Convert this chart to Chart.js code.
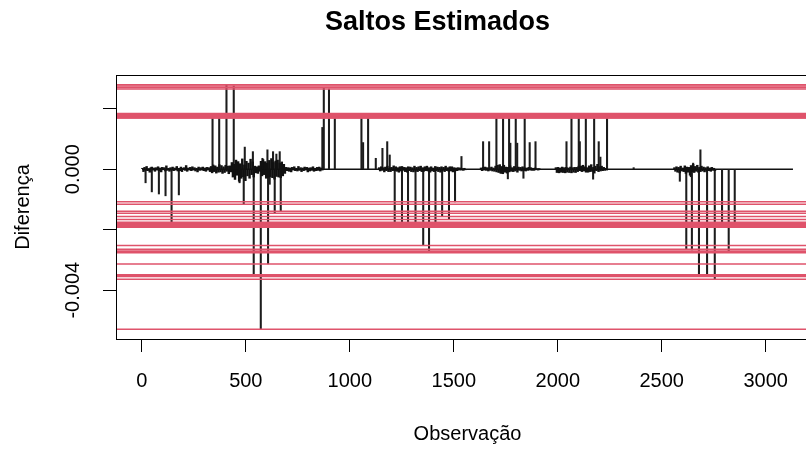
<!DOCTYPE html>
<html>
<head>
<meta charset="utf-8">
<title>Saltos Estimados</title>
<script src="https://cdn.jsdelivr.net/npm/chart.js@4.4.1/dist/chart.umd.min.js"></script>
<style>
  html, body { margin: 0; padding: 0; background: #fff; width: 806px; height: 449px; overflow: hidden; }
  canvas { display: block; }
</style>
</head>
<body>
<canvas id="saltos" width="875" height="449"></canvas>
<script>
// Axis ticks
const xTickValues = [0, 500, 1000, 1500, 2000, 2500, 3000];
const xTickLabels = ['0', '500', '1000', '1500', '2000', '2500', '3000'];
const yTickValues = [0.002, 0, -0.002, -0.004];
const yTickLabels = ['', '0.000', '', '-0.004'];

// Observation range of the differenced series
const firstObs = 1;
const lastObs = 3131;

// Estimated jumps: observation and size (each also drawn as a horizontal reference line)
const jumpObs = [143, 340, 372, 407, 442, 490, 538, 572, 607, 639, 668, 875, 900, 928, 1056, 1088,
  1216, 1251, 1280, 1316, 1353, 1381, 1412, 1444, 1477, 1506, 1705, 1737, 1766, 1798, 1841,
  2066, 2101, 2135, 2175, 2237, 2618, 2645, 2679, 2718, 2755, 2790, 2822, 2851];
const jumpValues = [-0.00175, 0.00170, 0.00183, 0.00279, 0.00275, -0.00116, -0.00349, -0.00529, -0.00313,
  -0.00146, -0.00139, 0.00270, 0.00265, 0.00176, 0.00179, 0.00172,
  -0.00177, -0.00180, -0.00182, -0.00185, -0.00252, -0.00273, -0.00187, -0.00156, -0.00166, -0.00108,
  0.00182, 0.00177, 0.00169, 0.00180, 0.00174,
  0.00184, 0.00171, 0.00178, 0.00175, 0.00181, -0.00265, -0.00267, -0.00352, -0.00355, -0.00364,
  -0.00190, -0.00276, -0.00192];

// Other large differences that were not flagged as jumps
const otherObs = [18, 48, 82, 114, 178, 470, 495, 534, 580, 604, 615, 631, 647, 663, 868,
  1064, 1125, 1157, 1180, 1192, 1537, 1641, 1670, 1760, 1772, 1805, 1835, 1865, 1893, 2042,
  2106, 2170, 2197, 2205, 2365, 2587, 2640, 2651, 2686];
const otherValues = [-0.00045, -0.00075, -0.00082, -0.00088, -0.00085, -0.00045, 0.00073, 0.00058, 0.00036,
  0.00064, -0.00050, 0.00058, 0.00050, 0.00058, 0.00138, 0.00088, 0.00036, 0.00069, 0.00091, 0.00047,
  0.00042, 0.00091, 0.00091, -0.00032, 0.00086, 0.00086, -0.00030, 0.00088, 0.00091, 0.00091,
  0.00091, -0.00033, 0.00091, 0.00040, 0.00005, -0.00040, -0.00025, 0.00020, 0.00064];

// Small fluctuations around zero, sampled every NOISE_STEP observations, in units of 1e-5
const NOISE_STEP = 5;
const NOISE_UNIT = 1e-5;
const noise1Start = 3;
const noise1 = [3, -8, 6, -4, 9, -5, 2, -10, 5, 7, -3, 4, -7, 5, -3, 8, -5, 4, -9, 6,
  -2, 5, -6, 11, -4, 3, -7, 5, -3, 7, -5, 4, -3, 9, -6, 3, -5, 7, -8, 3,
  5, -4, 12, -7, 4, -3, 6, -5, 8, -3, 5, -6, 3, -9, 7, -4, 5, -3, 7, -5,
  4, -7, 6, -3, 5, -8,
  9, -12, 14, -8, 11, -13, 7, -10, 15, -9, 12, -14, 8, -11, 13, -7, 10, -15, 11, -9,
  22, -26, 16, -34, 30, -20, 25, -40, 18, -30, 34, -25, 14, -38, 26, -22, 20, -30, 33, -18, 24, -26,
  10, -12, 8, -14, 11, -7,
  26, -22, 32, -18, 25, -30, 20, -27, 29, -25, 35, -28, 22, -33, 27, -24, 30, -26, 20, -28, 24, -22, 16, -14,
  6, -5];
const noise2Start = 703;
const noise2 = [5, -7, 4, -9, 6, -3, 8, -5, 3, -6, 9, -4, 5, -8, 4, -5, 7, -3, 6, -9,
  4, -6, 5, -4, 8, -7, 3, -5, 6, -4, 7, -6, 4, -3];
const noise3Start = 1141;
const noise3 = [5, -6, 8, -4, 5, -9, 7, -5, 10, -8, 4, -8, 6, -5, 11, -5, 8, -7, 5, -10,
  8, -6, 9, -4, 6, -8, 5, -10, 8, -5, 7, -8, 5, -9, 10, -6, 6, -8, 8, -5,
  10, -8, 5, -7, 8, -5, 10, -6, 5, -10, 8, -6, 4, -8, 9, -5, 7, -8, 6, -10,
  8, -5, 6, -8, 10, -5, 5, -7, 8, -6, 8, -9, 5, -6, 4, -5, 5, -3, 4, -3,
  2, -4, 3, -2];
const noise4Start = 1631;
const noise4 = [4, -5, 6, -3, 7, -4, 5, -6, 4, -4, 7, -6, 4, -7, 10, -9, 13, -11, 15, -14,
  9, -15, 13, -10, 7, -13, 6, -9, 11, -7, 5, -8, 9, -6, 4, -10, 7, -4, 6, -6,
  8, -5, 4, -6, 4, -4, 6, -3, 5, -4, 3, -4, 4, -2, 2, -3, 2, -1];
const noise5Start = 1991;
const noise5 = [5, -11, 6, -12, 4, -10, 7, -11, 5, -12, 6, -10, 4, -11, 7, -12, 5, -10, 6, -11,
  6, -8, 10, -5, 10, -8, 13, -6, 8, -10, 5, -10, 11, -8, 15, -7, 6, -13, 10, -5,
  16, -8, 8, -6, 10, -5, 6, -4, 3, -3];
const noise6Start = 2561;
const noise6 = [5, -7, 8, -10, 6, -12, 10, -6, 4, -8, 11, -14, 7, -10, 6, -20, 12, -8, 16, -11,
  9, -7, 13, -10, 6, -8, 10, -6, 7, -9, 5, -6, 8, -5, 4, -7, 6, -4, 3, -5];

// ---- build point lists ----
const pairs = (xs, ys) => xs.map((x, i) => ({ x: x, y: ys[i] }));
const noisePoints = [];
[[noise1Start, noise1], [noise2Start, noise2], [noise3Start, noise3],
 [noise4Start, noise4], [noise5Start, noise5], [noise6Start, noise6]].forEach(([start, vals]) => {
  vals.forEach((v, i) => noisePoints.push({ x: start + i * NOISE_STEP, y: v * NOISE_UNIT }));
});

// R-style axis limits: data range widened by 4% on each side
const allValues = jumpValues.concat(otherValues);
const dataMin = Math.min(...allValues), dataMax = Math.max(...allValues);
const yMin = dataMin - 0.04 * (dataMax - dataMin);
const yMax = dataMax + 0.04 * (dataMax - dataMin);
const xMin = firstObs - 0.04 * (lastObs - firstObs);
const xMax = lastObs + 0.04 * (lastObs - firstObs);

const FONT = "'Liberation Sans', Arial, Helvetica, sans-serif";
const RED = '#DF536B';

const spikeStyle = {
  type: 'bar', backgroundColor: '#1c1c1c', borderWidth: 0,
  barThickness: 1.4, grouped: false, order: 2
};

const datasets = [
  { type: 'line', label: 'zero', data: [{ x: firstObs, y: 0 }, { x: lastObs, y: 0 }],
    borderColor: '#111', borderWidth: 1.4, pointRadius: 0, order: 3 },
  Object.assign({}, spikeStyle, { label: 'ruido', data: noisePoints, barThickness: 1.8, backgroundColor: '#111' }),
  Object.assign({}, spikeStyle, { label: 'outros', data: pairs(otherObs, otherValues) }),
  Object.assign({}, spikeStyle, { label: 'saltos', data: pairs(jumpObs, jumpValues) })
];
// a horizontal reference line at every estimated jump size
jumpValues.forEach((v, i) => {
  datasets.push({
    type: 'line', label: 'nivel ' + (i + 1),
    data: [{ x: xMin, y: v }, { x: xMax, y: v }],
    borderColor: RED, borderWidth: 1.5, pointRadius: 0, order: 0
  });
});

// full box around the plotting region
const plotBox = {
  id: 'plotBox',
  afterDraw(chart) {
    const { ctx, chartArea: a } = chart;
    ctx.save();
    ctx.strokeStyle = '#000';
    ctx.lineWidth = 1;
    ctx.strokeRect(Math.round(a.left) + 0.5, Math.round(a.top) + 0.5,
      Math.round(a.right - a.left), Math.round(a.bottom - a.top));
    ctx.restore();
  }
};

const axisFont = { family: FONT, size: 20 };

new Chart(document.getElementById('saltos'), {
  type: 'bar',
  data: { datasets },
  options: {
    responsive: false,
    animation: false,
    devicePixelRatio: 1,
    layout: { padding: 0 },
    plugins: {
      legend: { display: false },
      tooltip: { enabled: false },
      title: {
        display: true, text: 'Saltos Estimados', color: '#000',
        font: { family: FONT, size: 27, weight: 'bold', lineHeight: 1.2 },
        padding: { top: 6, bottom: 36.6 }
      }
    },
    scales: {
      x: {
        type: 'linear', min: xMin, max: xMax, offset: false,
        afterBuildTicks: s => { s.ticks = xTickValues.map(v => ({ value: v })); },
        afterFit: s => { s.height = 110; },
        ticks: {
          autoSkip: false, maxRotation: 0, color: '#000', font: axisFont, padding: 17,
          callback: v => xTickLabels[xTickValues.indexOf(v)]
        },
        grid: { offset: false, drawOnChartArea: false, drawTicks: true, tickLength: 13, color: '#000', lineWidth: 1 },
        border: { display: true, color: '#000', width: 1 },
        title: { display: true, text: 'Observação', color: '#000', font: axisFont, padding: { top: 0, bottom: 2.5 } }
      },
      y: {
        type: 'linear', position: 'left', min: yMin, max: yMax,
        afterBuildTicks: s => { s.ticks = yTickValues.map(v => ({ value: v })); },
        afterFit: s => { s.width = 116; },
        ticks: {
          autoSkip: false, minRotation: 90, maxRotation: 90, crossAlign: 'center',
          color: '#000', font: axisFont, padding: 1,
          callback: v => yTickLabels[yTickValues.indexOf(v)]
        },
        grid: { drawOnChartArea: false, drawTicks: true, tickLength: 13, color: '#000', lineWidth: 1 },
        border: { display: true, color: '#000', width: 1 },
        title: { display: true, text: 'Diferença', color: '#000', font: axisFont, padding: { top: 11, bottom: 0 } }
      },
      // empty right margin of the figure
      margemDireita: {
        type: 'linear', position: 'right', display: true,
        afterFit: s => { s.width = 875 - 819; },
        ticks: { display: false }, grid: { display: false }, border: { display: false }
      }
    }
  },
  plugins: [plotBox]
});
</script>
</body>
</html>
